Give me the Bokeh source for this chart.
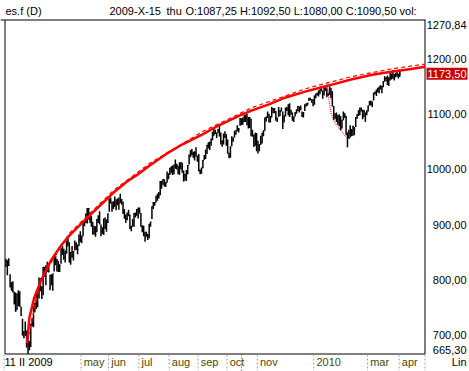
from bokeh.plotting import figure
from bokeh.models import Range1d
from bokeh.core.properties import value
from bokeh.embed import file_html
from bokeh.resources import INLINE

# ---------------- data (daily bars, es.f, 11 Feb 2009 .. 1 Apr 2010) ----------------
highs = [
    # Feb 2009
    838, 835, 839, 810, 796, 797, 778, 777, 775, 781, 779, 751,
    # Mar 2009
    729, 707, 724, 708, 699, 689, 720, 731, 752, 758, 775, 779, 804, 803, 788, 823, 823, 826, 832, 828, 809, 810,
    # Apr 2009
    811, 845, 842, 838, 834, 828, 856, 861, 856, 852, 870, 876, 868, 850, 861, 852, 871, 868, 864, 882, 888,
    # May 2009
    880, 907, 907, 920, 930, 930, 922, 916, 905, 898, 897, 910, 917, 924, 900, 895, 911, 913, 909, 920,
    # Jun 2009
    947, 949, 942, 942, 951, 946, 947, 949, 956, 946, 942, 928, 918, 922, 927, 918, 898, 910, 921, 922, 928, 931,
    # Jul 2009
    931, 921, 898, 898, 887, 887, 883, 901, 905, 933, 941, 941, 952, 956, 959, 979, 979, 982, 982, 977, 996, 993,
    # Aug 2009
    1003, 1005, 1007, 1009, 1018, 1010, 1006, 1013, 1013, 1012, 998, 992, 999, 1008, 1027, 1035, 1037, 1032, 1033, 1040, 1025,
    # Sep 2009
    1028, 1000, 1003, 1017, 1026, 1036, 1044, 1049, 1050, 1056, 1068, 1075, 1072, 1067, 1073, 1081, 1067, 1053, 1065, 1069, 1064,
    # Oct 2009
    1054, 1030, 1042, 1060, 1058, 1070, 1071, 1080, 1075, 1093, 1092.5, 1094, 1098, 1099, 1101, 1095, 1095, 1092, 1072, 1063, 1066, 1066,
    # Nov 2009
    1052, 1046, 1061, 1066, 1071, 1094, 1096, 1105, 1101, 1097, 1113, 1111, 1111, 1106, 1094, 1113, 1107, 1112, 1105, 1098,
    # Dec 2009
    1112, 1113, 1118, 1120, 1108, 1103, 1096, 1104, 1109, 1115, 1114, 1116, 1105, 1104, 1118, 1120, 1121, 1130, 1130, 1127, 1127,
    # Jan 2010
    1134, 1137, 1139, 1143, 1145, 1150, 1143, 1148, 1150, 1147, 1139, 1150, 1148, 1142, 1115, 1102, 1103, 1098, 1100, 1097,
    # Feb 2010
    1090, 1105, 1102, 1097, 1067, 1072, 1080, 1073, 1079, 1077, 1095, 1100, 1107, 1112, 1112, 1108, 1108, 1103, 1107,
    # Mar 2010 + 1 Apr
    1116, 1124, 1125, 1123, 1139, 1141, 1145, 1148, 1150, 1153, 1151, 1160, 1169, 1167, 1170, 1167, 1175, 1174, 1180, 1173, 1175, 1177, 1174, 1181,
]
lows = [
    823, 808, 825, 786, 780, 777, 755, 742, 745, 752, 751, 734,
    699, 694, 698, 677, 665.3, 672, 678, 715, 714, 741, 747, 750, 766, 779, 765, 772, 805, 790, 814, 813, 781, 790,
    780, 815, 826, 815, 814, 814, 829, 845, 836, 831, 847, 860, 831, 827, 840, 835, 853, 854, 846, 861, 868,
    866, 879, 897, 903, 902, 909, 903, 896, 882, 882, 878, 886, 903, 900, 879, 883, 881, 892, 887, 903,
    923, 938, 923, 928, 932, 926, 935, 927, 939, 936, 919, 911, 903, 908, 915, 892, 888, 896, 896, 913, 916, 911,
    920, 896, 886, 879, 869, 878, 872, 875, 896, 910, 928, 934, 940, 943, 947, 953, 965, 972, 969, 968, 976, 982,
    990, 993, 990, 991, 1001, 1000, 991, 990, 1000, 994, 978, 980, 979, 991, 1009, 1022, 1026, 1021, 1016, 1023, 1014,
    996, 991, 992, 1002, 1017, 1019, 1028, 1038, 1035, 1043, 1053, 1061, 1064, 1057, 1066, 1060, 1045, 1041, 1045, 1057, 1043,
    1029, 1020, 1021, 1042, 1050, 1058, 1063, 1069, 1067, 1079, 1080, 1081, 1086, 1086, 1080, 1074, 1075, 1060, 1059, 1041, 1043, 1033,
    1029, 1033, 1045, 1047, 1060, 1070, 1087, 1093, 1085, 1085, 1094, 1102, 1102, 1088, 1086, 1095, 1097, 1105, 1073, 1085,
    1096, 1106, 1098, 1095, 1099, 1088, 1086, 1096, 1101, 1106, 1103, 1107, 1095, 1094, 1106, 1114, 1116, 1124, 1126, 1121, 1115,
    1117, 1129, 1134, 1132, 1136, 1141, 1128, 1134, 1142, 1131, 1133, 1135, 1129, 1114, 1090, 1092, 1086, 1081, 1078, 1071,
    1074, 1089, 1093, 1063, 1040, 1056, 1058, 1060, 1061, 1062, 1077, 1092, 1097, 1098, 1105, 1091, 1095, 1086, 1098,
    1105, 1116, 1116, 1113, 1125, 1136, 1133, 1140, 1138, 1145, 1138, 1149, 1159, 1160, 1153, 1151, 1161, 1163, 1165, 1161, 1167, 1168, 1165, 1168,
]
closes = [
    833, 835, 826, 789, 788, 779, 770, 743, 773, 764, 752, 735,
    700, 696, 712, 682, 683, 677, 719, 721, 750, 756, 753, 778, 795, 784, 768, 823, 806, 813, 832, 815, 787, 798,
    811, 834, 842, 835, 815, 825, 856, 858, 841, 852, 865, 869, 832, 850, 843, 851, 866, 857, 855, 873, 872,
    877, 907, 903, 919, 907, 929, 909, 908, 883, 893, 882, 909, 908, 903, 888, 887, 910, 893, 906, 919,
    942, 944, 932, 942, 940, 939, 942, 939, 944, 946, 923, 911, 910, 918, 921, 893, 895, 900, 920, 918, 927, 919,
    923, 896, 898, 881, 879, 882, 879, 901, 905, 932, 940, 940, 951, 954, 954, 976, 979, 982, 979, 975, 986, 987,
    1002, 1005, 998, 997, 1010, 1007, 994, 1005, 1012, 1005, 979, 990, 996, 1007, 1026, 1025, 1028, 1028, 1030, 1029, 1021,
    998, 995, 1003, 1016, 1025, 1033, 1044, 1042, 1049, 1053, 1068, 1065, 1068, 1064, 1071, 1060, 1050, 1044, 1062, 1060, 1057,
    1029, 1025, 1040, 1054, 1057, 1065, 1071, 1076, 1073, 1092, 1090.5, 1087, 1097, 1091, 1081, 1092, 1079, 1066, 1063, 1042, 1066, 1036,
    1042, 1045, 1046, 1066, 1069, 1093, 1093, 1098, 1088, 1093, 1110, 1110, 1110, 1094, 1091, 1106, 1105, 1110, 1091, 1096,
    1109, 1109, 1099, 1106, 1104, 1091, 1095, 1102, 1106, 1114, 1107, 1110, 1097, 1102, 1114, 1118, 1120, 1127, 1126, 1126, 1115,
    1133, 1137, 1137, 1142, 1145, 1147, 1137, 1146, 1148, 1136, 1137, 1150, 1138, 1116, 1091, 1096, 1092, 1097, 1084, 1073,
    1089, 1103, 1097, 1063, 1066, 1056, 1070, 1068, 1078, 1075, 1094, 1099, 1106, 1109, 1108, 1094, 1105, 1102, 1104,
    1115, 1118, 1119, 1122, 1138, 1138, 1140, 1146, 1150, 1150, 1150, 1159, 1166, 1166, 1159, 1165, 1174, 1167, 1165, 1167, 1174, 1173, 1169, 1173.5,
]

# red fitted curve (solid) and its dashed companion (bar index, price)
curve_idx = [15.3, 17.0, 20.6, 25.4, 32.7, 40.0, 46.0, 58.9, 68.5, 78.2, 87.9, 95.2, 104.4, 116.4, 128.6,
             143.1, 154.7, 169.2, 178.7, 191.0, 202.6, 217.2, 229.3, 238.9, 250.6, 265.1, 279.6, 294.1, 304.3]
curve_px = [685, 731, 768, 798, 835, 862, 880, 912, 935, 958, 978, 990, 1007, 1028, 1046,
            1064, 1080, 1097, 1107, 1118, 1130, 1141, 1149, 1155, 1163, 1171, 1177, 1182, 1186]
dash_idx = [15.3, 25.4, 46.0, 78.2, 104.4, 143.1, 178.7, 217.2, 250.6, 279.6, 304.3]
dash_px = [686, 801, 884, 962, 1011, 1069, 1112, 1146, 1168, 1182, 1191]
drop_idx = [233.1, 234.6, 236.1, 238.2, 241.1, 243.3, 247.0]
drop_px = [1156, 1125, 1102, 1087, 1076, 1071, 1058]

y_min, y_max = 665.30, 1270.84
y_ticks = [1200, 1100, 1000, 900, 800, 700]
last_close = 1173.50

month_idx = [55, 75, 97, 119, 140, 161, 183, 224, 263, 286]
month_lbl = ["may", "jun", "jul", "aug", "sep", "oct", "nov", "2010", "mar", "apr"]
first_lbl = "11 II 2009"
cursor_idx = 171  # 2009-X-15

header_left = "es.f (D)"
header_date = "2009-X-15"
header_day = "thu"
header_ohlc = "O:1087,25 H:1092,50 L:1080,00 C:1090,50 vol:"

# ---------------- layout (pixel geometry of the canvas) ----------------
FONT = value("Liberation Sans")
FS = "11px"
W, H = 469, 371
BX0, BX1 = 4.5, 424.5      # price box left / right (px)
BY0, BY1 = 19.5, 353.5     # price box top / bottom (px)
IX0, IX1 = -0.7, 304.3     # bar-index span of the box
SX = (BX1 - BX0) / (IX1 - IX0)
SY = (BY1 - BY0) / (y_max - y_min)


def xd(px):
    return IX0 + (px - BX0) / SX


def yd(py):
    return y_max - (py - BY0) / SY


def fmt(v):
    return f"{v:.2f}".replace(".", ",")


p = figure(width=W, height=H, x_range=Range1d(xd(0), xd(W)), y_range=Range1d(yd(H), yd(0)),
           output_backend="svg", toolbar_location=None,
           x_axis_location=None, y_axis_location=None,
           min_border=0, min_border_left=0, min_border_right=0, min_border_top=0, min_border_bottom=0)
p.grid.visible = False
p.outline_line_color = None
p.background_fill_color = "white"
p.border_fill_color = "white"

# price box
p.segment(x0=[xd(0), xd(BX0), xd(BX1), xd(BX0)], y0=[y_max, y_max, y_max, y_min],
          x1=[xd(425), xd(BX0), xd(BX1), xd(BX1)], y1=[y_max, y_min, y_min, y_min],
          line_color="black", line_width=1)

# bars
idx = list(range(len(closes)))
p.segment(x0=idx, y0=lows, x1=idx, y1=highs, line_color="black", line_width=1.5)
p.segment(x0=idx, y0=closes, x1=[i + 0.6 for i in idx], y1=closes, line_color="black", line_width=1)

# red curves
p.line(dash_idx, dash_px, line_color="#ff0000", line_width=1.2, line_dash="4 3")
p.line(curve_idx, curve_px, line_color="#ff0000", line_width=2.5)
p.line(drop_idx, drop_px, line_color="#ff0000", line_width=1, line_dash="1 1")

# right price scale
LX = xd(466)
p.text(x=[LX], y=[yd(BY0 + 1)], text=[fmt(y_max)], text_align="right", text_baseline="top",
       text_font=FONT, text_font_size=FS, text_color="black")
p.text(x=[LX], y=[yd(BY1 - 0.5)], text=[fmt(y_min)], text_align="right", text_baseline="bottom",
       text_font=FONT, text_font_size=FS, text_color="black")
p.text(x=[LX] * len(y_ticks), y=y_ticks, text=[fmt(v) for v in y_ticks], text_align="right",
       text_baseline="middle", text_font=FONT, text_font_size=FS, text_color="black")
lab_h = 12 / SY
p.quad(left=[xd(426)], right=[xd(467)], bottom=[last_close - lab_h / 2], top=[last_close + lab_h / 2],
       fill_color="#cc0000", line_color=None)
p.text(x=[LX], y=[last_close], text=[fmt(last_close)], text_align="right", text_baseline="middle",
       text_font=FONT, text_font_size=FS, text_color="white")

# header
hy = yd(10)
p.text(x=[xd(5), xd(109), xd(166), xd(185)], y=[hy] * 4,
       text=[header_left, header_date, header_day, header_ohlc],
       text_align="left", text_baseline="middle", text_font=FONT, text_font_size=FS, text_color="black")

# bottom date strip
s_top, s_bot = yd(BY1 + 0.5), yd(H)
sep_x = [xd(3.5)] + [m - 0.5 for m in month_idx] + [xd(BX1)]
p.segment(x0=sep_x, y0=[s_top] * len(sep_x), x1=sep_x, y1=[s_bot] * len(sep_x),
          line_color="#a0a0a0", line_width=1, line_dash="2 2")
p.segment(x0=[cursor_idx], y0=[s_top], x1=[cursor_idx], y1=[s_bot],
          line_color="#ff0000", line_width=1, line_dash="1 2")

ly = yd(361)
p.text(x=[xd(4)], y=[ly], text=[first_lbl], text_align="left", text_baseline="middle",
       text_font=FONT, text_font_size=FS, text_color="black")
p.text(x=month_idx, y=[ly] * len(month_idx), text=month_lbl, x_offset=2, text_align="left",
       text_baseline="middle", text_font=FONT, text_font_size=FS, text_color="#4a4a00")
p.text(x=[LX], y=[ly], text=["Lin"], text_align="right", text_baseline="middle",
       text_font=FONT, text_font_size=FS, text_color="black")

open("out.html", "w").write(file_html(p, INLINE))
